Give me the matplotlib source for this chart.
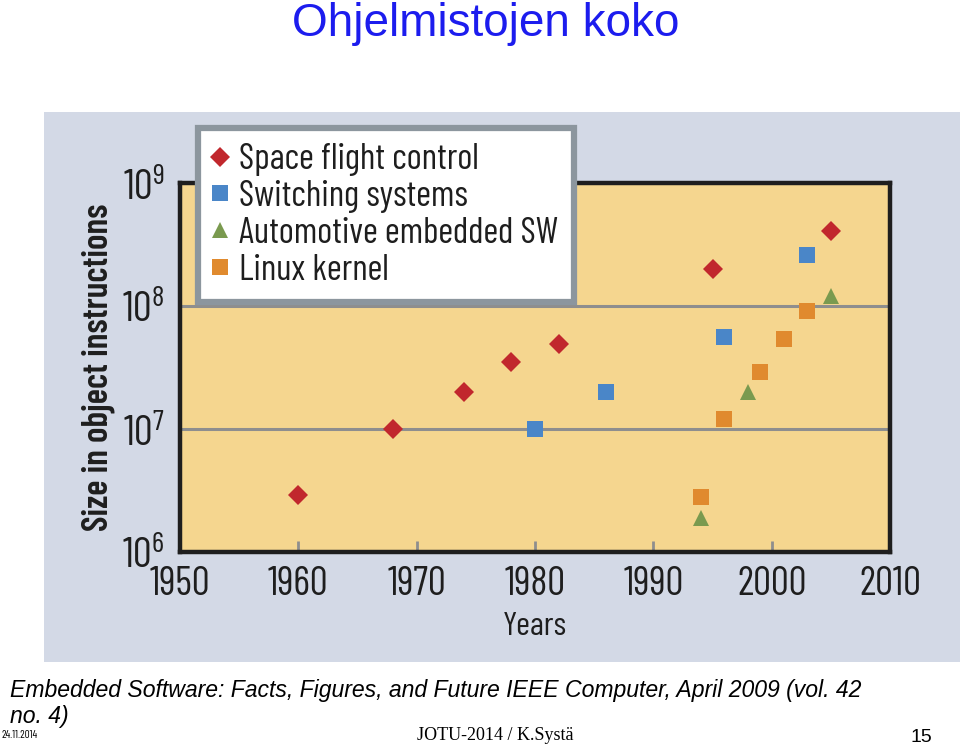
import matplotlib
matplotlib.use("Agg")
import matplotlib.pyplot as plt
from matplotlib import font_manager
from matplotlib.font_manager import FontProperties
from matplotlib.textpath import TextPath
from matplotlib.lines import Line2D
from matplotlib.patches import Rectangle

# data
space_years = [1960, 1968, 1974, 1978, 1982, 1995, 2005]
space_size = [2.9e6, 1.0e7, 2.0e7, 3.5e7, 4.9e7, 2.0e8, 4.1e8]
switch_years = [1980, 1986, 1996, 2003]
switch_size = [1.0e7, 2.0e7, 5.6e7, 2.6e8]
auto_years = [1994, 1998, 2005]
auto_size = [1.9e6, 2.0e7, 1.2e8]
linux_years = [1994, 1996, 1999, 2001, 2003]
linux_size = [2.8e6, 1.2e7, 2.9e7, 5.4e7, 9.1e7]

series_labels = ["Space flight control", "Switching systems",
                 "Automotive embedded SW", "Linux kernel"]
x_ticks = [1950, 1960, 1970, 1980, 1990, 2000, 2010]
y_ticks = [1e6, 1e7, 1e8, 1e9]
y_tick_labels = [r"$\mathrm{10^{6}}$", r"$\mathrm{10^{7}}$",
                 r"$\mathrm{10^{8}}$", r"$\mathrm{10^{9}}$"]

# the original uses a condensed face; take one if there is any (prefer one with a bold)
ttf = font_manager.fontManager.ttflist
weights = {}
for f in ttf:
    if "Narrow" in f.name or "Condensed" in f.name:
        try:
            w = int(f.weight)
        except (TypeError, ValueError):
            w = 700 if "bold" in str(f.weight).lower() else 400
        weights.setdefault(f.name, set()).add(w)
if weights:
    fam = max(weights, key=lambda n: (max(weights[n]) >= 600, len(weights[n])))
    stretch = "normal"
elif any(f.name == "DejaVu Sans" and str(f.stretch).startswith("condensed") for f in ttf):
    fam, stretch = "DejaVu Sans", "condensed"
else:
    fam, stretch = "Roboto", "normal"


def fit(text, px, weight="normal"):
    # font size (pt) that makes text about px wide at 100 dpi
    fp = FontProperties(family=fam, stretch=stretch, weight=weight)
    w = TextPath((0, 0), text, size=10, prop=fp).get_extents().width * 100 / 72
    return 10 * px / w


plt.rcParams["mathtext.fontset"] = "custom"
plt.rcParams["mathtext.rm"] = fam + (":stretch=condensed" if stretch != "normal" else "")
plt.rcParams["mathtext.default"] = "rm"

tick_fs = fit("1960", 58)
leg_fs = fit("Automotive embedded SW", 318)
ylab_fs = fit("Size in object instructions", 325, "semibold")
xlab_fs = fit("Years", 62)

W, H = 960, 747
fig = plt.figure(figsize=(W / 100, H / 100), dpi=100)
fig.patch.set_facecolor("white")

# grey-blue panel behind the chart
fig.patches.append(Rectangle((44 / W, 1 - 662 / H), (960 - 44) / W, (662 - 112) / H,
                             transform=fig.transFigure, facecolor="#d3d9e6",
                             edgecolor="none", zorder=-5))

ax = fig.add_axes([180 / W, 1 - 552 / H, (890 - 180) / W, (552 - 183) / H])
ax.set_zorder(2)
ax.set_facecolor("#f5d68f")
ax.set_yscale("log")
ax.set_xlim(1950, 2010)
ax.set_ylim(1e6, 1e9)

for y in [1e7, 1e8]:
    ax.axhline(y, color="#8e8e8e", lw=2.2, zorder=1)

ax.plot(space_years, space_size, "D", color="#c1272d", ms=10, mew=0, zorder=3)
ax.plot(switch_years, switch_size, "s", color="#4a86c8", ms=11, mew=0, zorder=3)
ax.plot(auto_years, auto_size, "^", color="#7a9a4f", ms=11.5, mew=0, zorder=3)
ax.plot(linux_years, linux_size, "s", color="#e08a2e", ms=11, mew=0, zorder=3)

for s in ax.spines.values():
    s.set_linewidth(3.2)
    s.set_color("#1e1e1e")

ax.set_xticks(x_ticks)
ax.set_xticklabels([str(t) for t in x_ticks], fontsize=tick_fs, family=fam,
                   stretch=stretch, color="#1e1e1e")
ax.tick_params(axis="x", direction="in", length=8, width=2, color="#8e8e8e", pad=10)
ax.minorticks_off()
ax.set_yticks(y_ticks)
ax.set_yticklabels(y_tick_labels, fontsize=tick_fs * 1.05, color="#1e1e1e")
ax.tick_params(axis="y", length=0, pad=11)

ax.set_xlabel("Years", fontsize=xlab_fs, family=fam, stretch=stretch,
              color="#1e1e1e", labelpad=6.5)
ax.set_ylabel("Size in object instructions", fontsize=ylab_fs, family=fam,
              stretch=stretch, weight="semibold", color="#1e1e1e", labelpad=5)

handles = [
    Line2D([], [], ls="none", marker="D", color="#c1272d", ms=10, mew=0),
    Line2D([], [], ls="none", marker="s", color="#4a86c8", ms=11, mew=0),
    Line2D([], [], ls="none", marker="^", color="#7a9a4f", ms=11.5, mew=0),
    Line2D([], [], ls="none", marker="s", color="#e08a2e", ms=11, mew=0),
]
leg_px = leg_fs * 100 / 72
leg = ax.legend(handles, series_labels, loc="upper left",
                bbox_to_anchor=(198 / W, 1 - 128 / H), bbox_transform=fig.transFigure,
                prop={"family": fam, "stretch": stretch, "size": leg_fs},
                fancybox=False, framealpha=1, edgecolor="#8c969e",
                handlelength=14 / leg_px, handletextpad=12 / leg_px,
                labelspacing=max(0.05, (46 - 1.17 * leg_px) / leg_px),
                borderpad=0.55 - 4.5 / leg_px, borderaxespad=0)
leg.get_frame().set_linewidth(4.5)
leg.set_zorder(5)
for t in leg.get_texts():
    t.set_color("#1e1e1e")

fig.text(486 / W, 1 - 36 / H, "Ohjelmistojen koko", ha="center", va="baseline",
         fontsize=33, family="Liberation Sans", color="#1c1cee")

fig.text(10 / W, 1 - 690 / H,
         "Embedded Software: Facts, Figures, and Future IEEE Computer, April 2009 (vol. 42",
         ha="left", va="center", fontsize=16.6, family="Liberation Sans", style="italic")
fig.text(10 / W, 1 - 717 / H, "no. 4)", ha="left", va="center", fontsize=16.6,
         family="Liberation Sans", style="italic")
fig.text(1 / W, 1 - 735 / H, "24.11.2014", ha="left", va="center", fontsize=8,
         family=fam, stretch=stretch)
fig.text(495 / W, 1 - 736 / H, "JOTU-2014 / K.Systä", ha="center", va="center",
         fontsize=13, family="Liberation Serif")
fig.text(921 / W, 1 - 737 / H, "15", ha="center", va="center", fontsize=14,
         family="Liberation Sans")

fig.savefig("out.png", dpi=100)
